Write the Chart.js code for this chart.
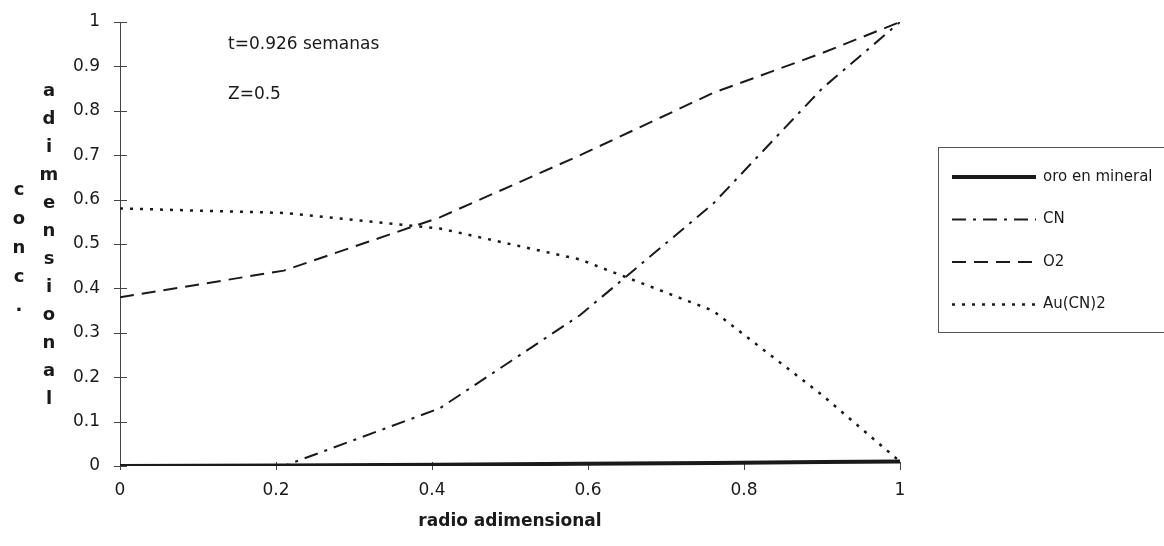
<!DOCTYPE html>
<html>
<head>
<meta charset="utf-8">
<script src="https://cdn.jsdelivr.net/npm/chart.js@4/dist/chart.umd.min.js"></script>
<style>
  html, body { margin: 0; padding: 0; background: #fff; }
  #wrap { width: 1164px; height: 546px; position: relative; }
</style>
</head>
<body>
<div id="wrap"><canvas id="myChart" width="1164" height="546"></canvas></div>
<script>
// data
const radio = [0, 0.21, 0.41, 0.59, 0.76, 0.9, 1];
const oro = [0, 0.001, 0.003, 0.005, 0.007, 0.009, 0.01];
const cn = [0, 0, 0.13, 0.34, 0.59, 0.85, 1.0];
const o2 = [0.38, 0.44, 0.56, 0.70, 0.84, 0.93, 1.0];
const aucn2 = [0.58, 0.57, 0.535, 0.465, 0.35, 0.16, 0.01];
const seriesNames = ['oro en mineral', 'CN', 'O2', 'Au(CN)2'];
const xTicks = [0, 0.2, 0.4, 0.6, 0.8, 1];
const yTicks = [0, 0.1, 0.2, 0.3, 0.4, 0.5, 0.6, 0.7, 0.8, 0.9, 1];
const notes = ['t=0.926 semanas', 'Z=0.5'];

const FONT = "'DejaVu Sans', sans-serif";
const INK = '#1a1a1a';

// line styles per series
const styles = [
    { width: 4, dash: [] },
    { width: 2, dash: [14, 7, 3, 7] },
    { width: 2, dash: [14, 8] },
    { width: 2.5, dash: [3, 7] }
];

const pts = (ys) => radio.map((x, i) => ({ x: x, y: ys[i] }));

const data = {
    datasets: [oro, cn, o2, aucn2].map((ys, i) => ({
        label: seriesNames[i],
        data: pts(ys),
        borderColor: INK,
        borderWidth: styles[i].width,
        borderDash: styles[i].dash,
        pointRadius: 0,
        tension: 0,
        fill: false
    }))
};

// axis line, cross ticks, labels, legend
const decor = {
    id: 'decor',
    beforeDatasetsDraw(chart) {
        const ctx = chart.ctx;
        const a = chart.chartArea;
        const xs = chart.scales.x, ys = chart.scales.y;
        ctx.save();
        ctx.strokeStyle = '#444';
        ctx.lineWidth = 1;
        ctx.beginPath();
        ctx.moveTo(a.left + 0.5, a.top);
        ctx.lineTo(a.left + 0.5, a.bottom);
        yTicks.forEach(v => {
            const y = Math.round(ys.getPixelForValue(v)) + 0.5;
            ctx.moveTo(a.left - 6, y);
            ctx.lineTo(a.left + 7, y);
        });
        xTicks.forEach(v => {
            const x = Math.round(xs.getPixelForValue(v)) + 0.5;
            ctx.moveTo(x, a.bottom - 4);
            ctx.lineTo(x, a.bottom + 4);
        });
        ctx.stroke();
        ctx.restore();
    },
    afterDraw(chart) {
        const ctx = chart.ctx;
        ctx.save();
        ctx.fillStyle = INK;

        // notes in the plot
        ctx.font = '17px ' + FONT;
        ctx.textAlign = 'left';
        ctx.textBaseline = 'middle';
        ctx.fillText(notes[0], 228, 45);
        ctx.fillText(notes[1], 228, 95);

        // x title
        ctx.font = 'bold 17px ' + FONT;
        ctx.textAlign = 'center';
        ctx.fillText('radio adimensional', 510, 522);

        // y title, stacked letters
        ctx.font = 'bold 18px ' + FONT;
        'conc.'.split('').forEach((c, i) => ctx.fillText(c, 19, 190 + i * 29));
        'adimensional'.split('').forEach((c, i) => ctx.fillText(c, 49, 91 + i * 28));

        // legend box
        ctx.strokeStyle = '#555';
        ctx.lineWidth = 1;
        ctx.strokeRect(938.5, 147.5, 240, 185);
        ctx.font = '15px ' + FONT;
        ctx.textAlign = 'left';
        seriesNames.forEach((name, i) => {
            const y = 177 + i * 42.5;
            ctx.beginPath();
            ctx.lineWidth = styles[i].width;
            ctx.setLineDash(styles[i].dash);
            ctx.strokeStyle = INK;
            ctx.moveTo(952, y);
            ctx.lineTo(1036, y);
            ctx.stroke();
            ctx.setLineDash([]);
            ctx.fillText(name, 1043, y);
        });
        ctx.restore();
    }
};

const chart = new Chart('myChart', {
    type: 'line',
    data: data,
    options: {
        responsive: false,
        animation: false,
        layout: { padding: { left: 0, right: 264, top: 22, bottom: 0 } },
        plugins: {
            legend: { display: false },
            tooltip: { enabled: false }
        },
        scales: {
            x: {
                type: 'linear',
                min: 0,
                max: 1,
                afterFit: (s) => { s.height = 80; },
                afterBuildTicks: (s) => { s.ticks = xTicks.map(v => ({ value: v })); },
                grid: { display: false, drawTicks: false },
                border: { display: false },
                ticks: {
                    padding: 14,
                    color: INK,
                    font: { family: FONT, size: 17 },
                    maxRotation: 0,
                    callback: (v) => String(v)
                }
            },
            y: {
                min: 0,
                max: 1,
                afterFit: (s) => {
                    s.width = 120;
                    s.paddingTop = 8;
                    s.paddingBottom = 8;
                },
                afterBuildTicks: (s) => { s.ticks = yTicks.map(v => ({ value: v })); },
                grid: { display: false, drawTicks: false },
                border: { display: false },
                ticks: {
                    padding: 20,
                    color: INK,
                    font: { family: FONT, size: 17 },
                    callback: (v) => String(Math.round(v * 10) / 10)
                }
            }
        }
    },
    plugins: [decor]
});
</script>
</body>
</html>
